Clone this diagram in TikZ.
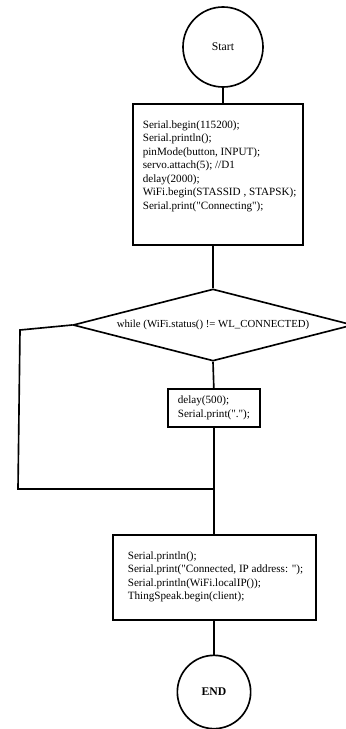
\documentclass[tikz,border=0pt]{standalone}
\usepackage{fontspec}
\setmainfont{Liberation Serif}[Ligatures=TeXOff]
\usetikzlibrary{shapes.geometric}
\begin{document}
\begin{tikzpicture}[
      x=0.03cm, y=-0.03cm,
      line width = 1.4pt,
      C/.style={draw,circle,inner sep=0pt,font=\fontsize{10}{12}\selectfont},
      B/.style={draw,anchor=north west,inner xsep=0.3cm,inner ysep=0.45cm,font=\fontsize{9.5}{11.5}\selectfont},
      D/.style={draw,diamond,aspect=3.9,inner sep=0pt,minimum width=8.4cm,minimum height=2.16cm,font=\fontsize{9.2}{11}\selectfont}]
  \useasboundingbox (0,0) rectangle (346,729);
  \node[C, minimum size=2.4cm] (start) at (223,47) {Start};
  \node[B] (b1) at (132,103) {\parbox[t][3.33cm][t]{4.5cm}{\begin{tabular}[t]{@{}l@{}}
    Serial.begin(115200);\\
    Serial.println();\\
    pinMode(button, INPUT);\\
    servo.attach(5); //D1\\
    delay(2000);\\
    WiFi.begin(STASSID , STAPSK);\\
    Serial.print("Connecting");
    \end{tabular}}};
  \node[D] (d) at (213,325) {while (WiFi.status() != WL\_CONNECTED)};
  \node[B, inner ysep=0.17cm] (dl) at (167,388) {\parbox[t]{2.16cm}{\begin{tabular}[t]{@{}l@{}}
    delay(500);\\
    Serial.print(".");
    \end{tabular}}};
  \node[B, inner xsep=0.45cm] (b3) at (112,534) {\parbox[t][1.65cm][t]{5.19cm}{\begin{tabular}[t]{@{}l@{}}
    Serial.println();\\
    Serial.print("Connected, IP address: ");\\
    Serial.println(WiFi.localIP());\\
    ThingSpeak.begin(client);
    \end{tabular}}};
  \node[C, minimum size=2.2cm, font=\fontsize{10}{12}\selectfont\bfseries] (end) at (214,692) {END};
  \coordinate (lt) at (20,330);
  \coordinate (lb) at (18,489);
  \coordinate (j) at (213,489);
  \draw (start) -- (start |- b1.north);
  \draw (d.north |- b1.south) -- (d.north);
  \draw (d.south) -- (dl.north);
  \draw (d.west) -- (lt) -- (lb) -- (j);
  \draw (dl.south) -- (b3.north -| dl.south);
  \draw (b3.south -| end) -- (end);
\end{tikzpicture}
\end{document}
